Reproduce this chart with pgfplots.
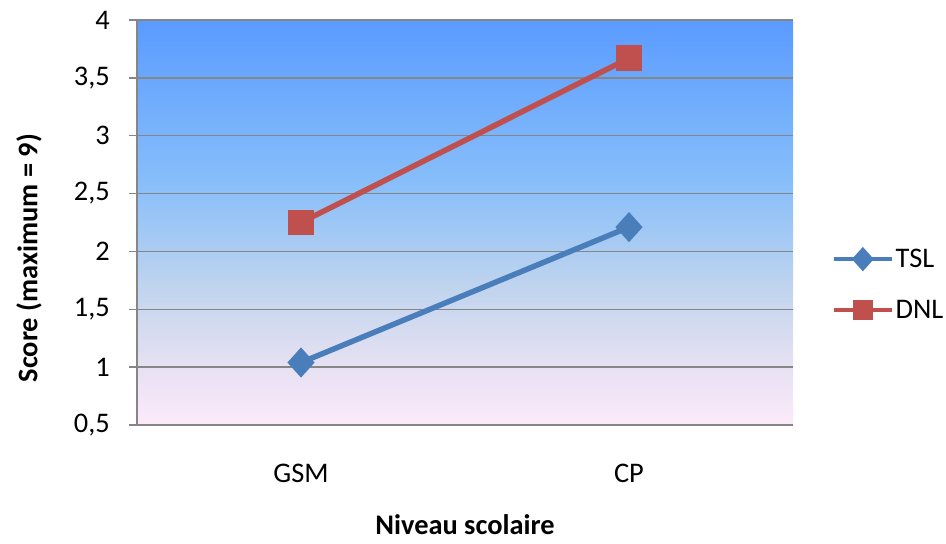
\documentclass[border=0pt]{standalone}
\usepackage{fontspec}
\setmainfont{Carlito}
\usepackage{pgfplots}
\pgfplotsset{compat=1.18}

\definecolor{tslblue}{RGB}{74,126,187}
\definecolor{dnlred}{RGB}{192,80,77}
\definecolor{gridgray}{RGB}{134,134,134}
\definecolor{bgA}{RGB}{252,234,250}
\definecolor{bgB}{RGB}{228,224,242}
\definecolor{bgC}{RGB}{192,212,238}
\definecolor{bgD}{RGB}{135,190,250}
\definecolor{bgE}{RGB}{90,155,255}

% plot area background: pink at the bottom, blue at the top
\pgfdeclareverticalshading{plotbg}{100bp}{color(0bp)=(bgA); color(25bp)=(bgA); color(33bp)=(bgB); color(42bp)=(bgC); color(55bp)=(bgD); color(75bp)=(bgE); color(100bp)=(bgE)}

\newcommand{\chartfont}{\fontsize{28.5}{32}\selectfont}

\begin{document}
\begin{tikzpicture}
\begin{axis}[
  at={(0,0)}, anchor=south west,
  scale only axis, width=656bp, height=405bp,
  xmin=-0.5, xmax=1.5, ymin=0.5, ymax=4,
  xtick={0,1}, xticklabels={GSM,CP},
  ytick={0.5,1,1.5,2,2.5,3,3.5,4},
  /pgf/number format/use comma,
  /pgf/number format/assume math mode=true,
  axis x line*=bottom, axis y line*=left,
  axis line style={gridgray, line width=1.5bp, -},
  ymajorgrids, grid style={gridgray, line width=1.3bp},
  tick align=outside, major tick length=8bp,
  ytick style={gridgray, line width=1.3bp},
  xtick style={draw=none},
  axis background/.style={shade, shading=plotbg},
  tick label style={font=\chartfont},
  yticklabel style={anchor=east, inner sep=0pt, xshift=-19bp},
  xticklabel style={anchor=center, inner sep=0pt, yshift=-40bp},
  xlabel={\textbf{Niveau scolaire}},
  ylabel={\textbf{Score (maximum = 9)}},
  label style={font=\chartfont},
  xlabel style={at={(axis description cs:0.5,0)}, anchor=center, inner sep=0pt, yshift=-100bp},
  ylabel style={at={(axis description cs:-0.1646,0.412)}, anchor=center, inner sep=0pt},
  legend style={at={(1.054,0.347)}, anchor=west, draw=none, fill=none,
    font=\chartfont, row sep=28bp,
    nodes={inner sep=1.5bp}, cells={anchor=west}},
  legend image code/.code={\draw[mark repeat=2,mark phase=2,#1,line width=4.5bp,every mark/.append style={scale=0.8}] plot coordinates {(0bp,0bp) (29bp,0bp) (58bp,0bp)};},
  clip=false,
]
\addplot[tslblue, line width=5.5bp, mark=diamond*, mark size=11bp,
  mark options={xscale=1.2, solid, fill=tslblue}] coordinates {(0,1.04) (1,2.21)};
\addlegendentry{TSL}
\addplot[dnlred, line width=5.5bp, mark=square*, mark size=10bp,
  mark options={solid, fill=dnlred}] coordinates {(0,2.25) (1,3.67)};
\addlegendentry{DNL}
\end{axis}
\pgfresetboundingbox
\path[use as bounding box] (-137bp,-119bp) rectangle (809bp,425bp);
\end{tikzpicture}
\end{document}
